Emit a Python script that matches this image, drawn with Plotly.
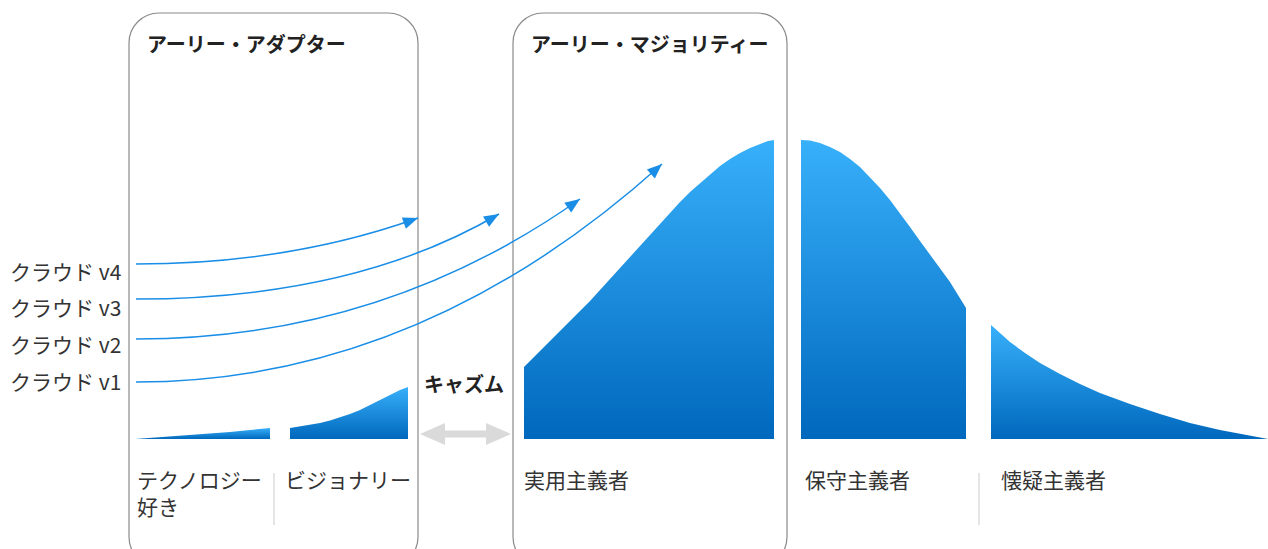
import plotly.graph_objects as go

# ---------------- data ----------------
# Adoption curve segments: x positions and heights above the baseline
seg_names = ["テクノロジー<br>好き", "ビジョナリー", "実用主義者", "保守主義者", "懐疑主義者"]
seg_x = [
    [135, 170, 200, 230, 250, 270],
    [290, 300, 310, 320, 330, 340, 350, 360, 370, 380, 390, 400, 408],
    [524, 530, 540, 550, 560, 570, 580, 590, 600, 610, 620, 630, 640, 650, 660,
     670, 680, 690, 700, 710, 720, 730, 740, 750, 760, 768, 774],
    [801, 810, 820, 830, 840, 850, 860, 870, 880, 890, 900, 910, 920, 930, 940,
     950, 958, 966],
    [991, 1000, 1010, 1025, 1040, 1060, 1080, 1100, 1130, 1160, 1190, 1220, 1250, 1268],
]
seg_h = [
    [0, 2.5, 4.5, 7, 9, 11],
    [11, 12.5, 14, 16, 18.5, 21.5, 25, 29, 34, 39, 44.5, 49, 52],
    [72, 78, 87, 97, 107, 117, 127, 138, 149, 160, 171, 182, 194, 205, 216,
     227, 237, 247, 256, 265, 273, 280, 286, 291, 295, 298, 299],
    [299, 298.5, 296, 292, 287, 280, 272, 262, 251, 239, 226, 212, 198, 184, 170,
     157, 144, 131],
    [114, 106, 97, 86, 76, 65, 55, 46, 35, 25, 16, 9, 3, 0],
]
seg_label_x = [135, 283, 522, 803, 999]

# Cloud version arrows
cloud_labels = ["クラウド v1", "クラウド v2", "クラウド v3", "クラウド v4"]
cloud_label_y = [58, 95, 132, 168]
arrow_start_y = [57, 100, 140, 175]
arrow_end_x = [662, 580, 499, 418]
arrow_end_y = [275, 240, 225, 221]
arrow_ctrl_x = [420, 382, 354, 289]

# Group boxes
group_titles = ["アーリー・アダプター", "アーリー・マジョリティー"]
group_x0 = [129, 513]
group_x1 = [418, 787]

# ---------------- style ----------------
FONT = "Noto Sans CJK JP"
LIGHT = "#38b0fa"
DARK = "#0068bd"
ARROW = "#1a8ee6"
BOX = "#8a8a8a"
TXT = "#333333"

fig = go.Figure()

# curve segments with vertical gradient
for xs, hs in zip(seg_x, seg_h):
    fig.add_trace(go.Scatter(
        x=xs + [xs[-1], xs[0]],
        y=hs + [0, 0],
        mode="lines",
        fill="toself",
        fillgradient=dict(type="vertical", colorscale=[[0, DARK], [1, LIGHT]]),
        line=dict(width=0, color=DARK),
        hoverinfo="skip",
        showlegend=False,
    ))

shapes = []
annotations = []

# rounded group boxes
top, bottom, r = 426, -128, 30
k = 0.5523 * r
for x0, x1, title in zip(group_x0, group_x1, group_titles):
    p = (f"M {x0+r},{top} L {x1-r},{top} "
         f"C {x1-r+k},{top} {x1},{top-r+k} {x1},{top-r} "
         f"L {x1},{bottom+r} "
         f"C {x1},{bottom+r-k} {x1-r+k},{bottom} {x1-r},{bottom} "
         f"L {x0+r},{bottom} "
         f"C {x0+r-k},{bottom} {x0},{bottom+r-k} {x0},{bottom+r} "
         f"L {x0},{top-r} "
         f"C {x0},{top-r+k} {x0+r-k},{top} {x0+r},{top} Z")
    shapes.append(dict(type="path", path=p, xref="x", yref="y",
                       line=dict(color=BOX, width=1.2), fillcolor="rgba(0,0,0,0)", layer="below"))
    annotations.append(dict(x=x0 + 16, y=396, text=f"<b>{title}</b>", showarrow=False,
                            xanchor="left", yanchor="middle",
                            font=dict(family=FONT, size=20, color="#222222")))

# cloud arrows (quadratic curves + triangular heads)
for lab, ly, sy, ex, ey, cx in zip(cloud_labels, cloud_label_y, arrow_start_y,
                                   arrow_end_x, arrow_end_y, arrow_ctrl_x):
    sx = 136
    shapes.append(dict(type="path", path=f"M {sx},{sy} Q {cx},{sy} {ex},{ey}",
                       xref="x", yref="y", line=dict(color=ARROW, width=1.5)))
    dx, dy = ex - cx, ey - sy
    n = (dx * dx + dy * dy) ** 0.5
    ux, uy = dx / n, dy / n
    L, W = 15, 6
    bx, by = ex - L * ux, ey - L * uy
    px, py = -uy, ux
    shapes.append(dict(type="path",
                       path=f"M {ex},{ey} L {bx+W*px},{by+W*py} L {bx-W*px},{by-W*py} Z",
                       xref="x", yref="y", line=dict(width=0), fillcolor=ARROW))
    annotations.append(dict(x=123, y=ly, text=lab, showarrow=False,
                            xanchor="right", yanchor="middle",
                            font=dict(family=FONT, size=21, color=TXT)))

# chasm double arrow
cx0, cx1, cy = 420, 511, 5
hl, hh, sh = 25, 11, 3.5
p = (f"M {cx0},{cy} L {cx0+hl},{cy+hh} L {cx0+hl},{cy+sh} L {cx1-hl},{cy+sh} "
     f"L {cx1-hl},{cy+hh} L {cx1},{cy} L {cx1-hl},{cy-hh} L {cx1-hl},{cy-sh} "
     f"L {cx0+hl},{cy-sh} L {cx0+hl},{cy-hh} Z")
shapes.append(dict(type="path", path=p, xref="x", yref="y",
                   line=dict(width=0), fillcolor="#dadada"))
annotations.append(dict(x=422, y=56, text="<b>キャズム</b>", showarrow=False,
                        xanchor="left", yanchor="middle",
                        font=dict(family=FONT, size=20, color="#222222")))

# segment labels
for name, lx in zip(seg_names, seg_label_x):
    annotations.append(dict(x=lx, y=-42, text=name, showarrow=False,
                            xanchor="left", yanchor="top", yshift=19, align="left",
                            font=dict(family=FONT, size=21, color=TXT)))

# light separators
for sx in [274, 979]:
    shapes.append(dict(type="line", x0=sx, x1=sx, y0=-34, y1=-86, xref="x", yref="y",
                       line=dict(color="#dddddd", width=1.5)))

fig.update_layout(
    width=1268, height=549,
    margin=dict(l=0, r=0, t=0, b=0),
    paper_bgcolor="white", plot_bgcolor="white",
    xaxis=dict(range=[0, 1268], visible=False, fixedrange=True),
    yaxis=dict(range=[-110, 439], visible=False, fixedrange=True),
    shapes=shapes, annotations=annotations,
    showlegend=False,
)

fig.write_html("out.html", config={"displayModeBar": False})
